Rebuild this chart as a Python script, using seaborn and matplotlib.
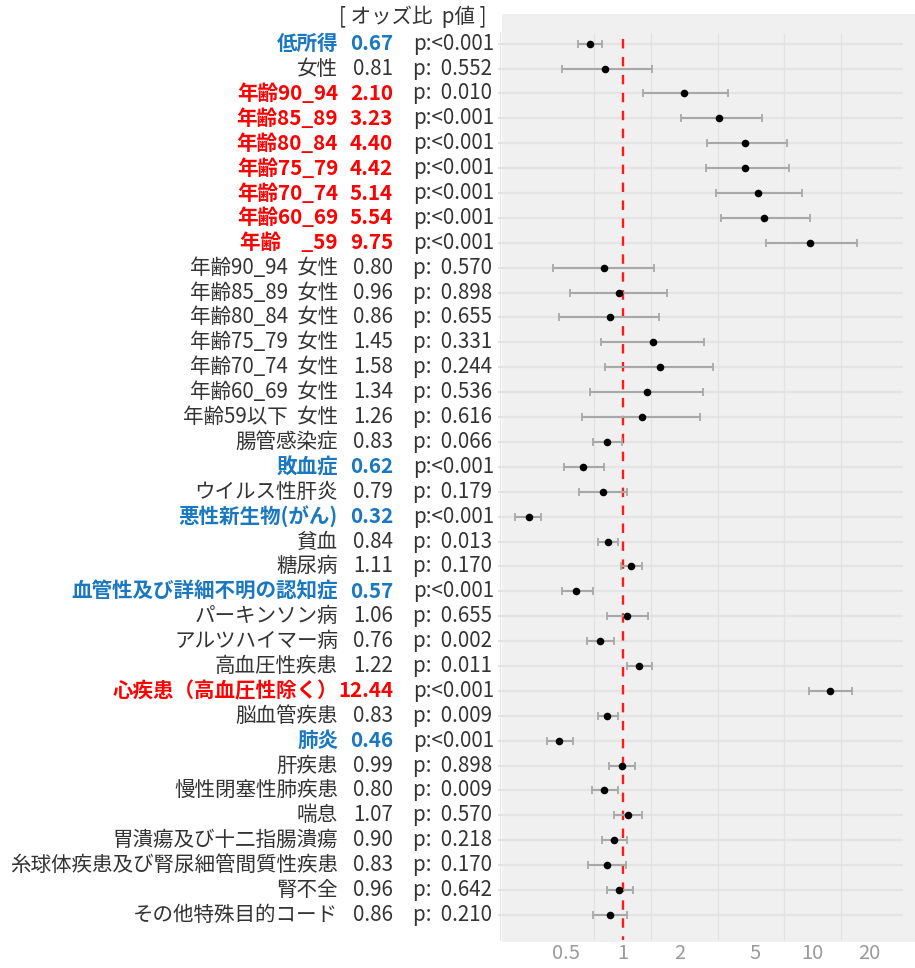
import numpy as np
import pandas as pd
import matplotlib
matplotlib.use("Agg")
import matplotlib.pyplot as plt
import matplotlib.transforms as mtransforms
from matplotlib.lines import Line2D
import seaborn as sns

# ---- data -------------------------------------------------------------
labels = [
    "低所得", "女性", "年齢90_94", "年齢85_89", "年齢80_84", "年齢75_79",
    "年齢70_74", "年齢60_69", "年齢\u3000_59",
    "年齢90_94  女性", "年齢85_89  女性", "年齢80_84  女性", "年齢75_79  女性",
    "年齢70_74  女性", "年齢60_69  女性", "年齢59以下  女性",
    "腸管感染症", "敗血症", "ウイルス性肝炎", "悪性新生物(がん)", "貧血", "糖尿病",
    "血管性及び詳細不明の認知症", "パーキンソン病", "アルツハイマー病", "高血圧性疾患",
    "心疾患（高血圧性除く）", "脳血管疾患", "肺炎", "肝疾患", "慢性閉塞性肺疾患", "喘息",
    "胃潰瘍及び十二指腸潰瘍", "糸球体疾患及び腎尿細管間質性疾患", "腎不全",
    "その他特殊目的コード",
]
odds_ratio = [
    0.67, 0.81, 2.10, 3.23, 4.40, 4.42, 5.14, 5.54, 9.75,
    0.80, 0.96, 0.86, 1.45, 1.58, 1.34, 1.26,
    0.83, 0.62, 0.79, 0.32, 0.84, 1.11, 0.57, 1.06, 0.76, 1.22,
    12.44, 0.83, 0.46, 0.99, 0.80, 1.07, 0.90, 0.83, 0.96, 0.86,
]
ci_lower = [
    0.58, 0.48, 1.28, 2.02, 2.77, 2.75, 3.12, 3.29, 5.70,
    0.43, 0.53, 0.46, 0.77, 0.81, 0.67, 0.61,
    0.70, 0.49, 0.59, 0.27, 0.74, 0.98, 0.48, 0.83, 0.65, 1.06,
    9.56, 0.74, 0.40, 0.85, 0.69, 0.90, 0.78, 0.66, 0.83, 0.70,
]
ci_upper = [
    0.78, 1.42, 3.61, 5.43, 7.38, 7.50, 8.85, 9.68, 17.27,
    1.46, 1.71, 1.56, 2.68, 3.01, 2.65, 2.57,
    0.99, 0.80, 1.05, 0.37, 0.95, 1.26, 0.70, 1.36, 0.90, 1.42,
    16.24, 0.95, 0.55, 1.16, 0.94, 1.27, 1.05, 1.04, 1.13, 1.05,
]
p_values = [
    "<0.001", "0.552", "0.010", "<0.001", "<0.001", "<0.001", "<0.001", "<0.001", "<0.001",
    "0.570", "0.898", "0.655", "0.331", "0.244", "0.536", "0.616",
    "0.066", "<0.001", "0.179", "<0.001", "0.013", "0.170", "<0.001", "0.655", "0.002", "0.011",
    "<0.001", "0.009", "<0.001", "0.898", "0.009", "0.570", "0.218", "0.170", "0.642", "0.210",
]
# highlight: "up" = significantly higher risk, "down" = significantly lower risk
highlight = [
    "down", "", "up", "up", "up", "up", "up", "up", "up",
    "", "", "", "", "", "", "",
    "", "down", "", "down", "", "", "down", "", "", "",
    "up", "", "down", "", "", "", "", "", "", "",
]
x_breaks = [0.5, 1, 2, 5, 10, 20]
x_break_labels = ["0.5", "1", "2", "5", "10", "20"]

df = pd.DataFrame({
    "label": labels, "OR": odds_ratio, "lo": ci_lower, "hi": ci_upper,
    "p": p_values, "hl": highlight,
})
df["row"] = np.arange(len(df))

# ---- style --------------------------------------------------------------
sns.set_style("white")
plt.rcParams["font.family"] = ["Noto Sans CJK JP", "DejaVu Sans"]

W, H = 915, 968
fig = plt.figure(figsize=(W / 100, H / 100), dpi=100)
ax_left, ax_right, ax_top, ax_bottom = 502, 915, 14, 942
ax = fig.add_axes([ax_left / W, 1 - ax_bottom / H,
                   (ax_right - ax_left) / W, (ax_bottom - ax_top) / H])
ax.set_facecolor("#F0F0F0")
for s in ax.spines.values():
    s.set_visible(False)

ax.set_xscale("log")
ax.set_xlim(0.2311, 34.74)
ax.set_ylim(36.09, -1.193)

# horizontal row lines (extend slightly past the panel on the left)
row_tf = mtransforms.blended_transform_factory(ax.transAxes, ax.transData)
for r in df["row"]:
    ax.plot([-0.0097, 0.971], [r, r], color="#E4E4E4", lw=1.6,
            transform=row_tf, clip_on=False, zorder=1, solid_capstyle="butt")

# minor vertical grid between breaks
minor = [np.sqrt(a * b) for a, b in zip(x_breaks[:-1], x_breaks[1:])]
ax.vlines(minor, -0.43, 36.0, color="#E2E2E2", lw=0.9, zorder=1)

# left rule beside the panel
fig.add_artist(Line2D([500 / W, 500 / W], [1 - 32 / H, 1 - 940 / H],
                      color="#E3E3E3", lw=0.8))

# reference line at OR = 1
ax.vlines(1, -0.19, 36.0, color="#FF1A1A", lw=1.7,
          linestyles=[(0, (4.0, 3.6))], zorder=2)

# confidence intervals
ax.errorbar(df["OR"], df["row"],
            xerr=[df["OR"] - df["lo"], df["hi"] - df["OR"]],
            fmt="none", ecolor="#A8A8A8", elinewidth=1.5, capsize=3.0,
            capthick=1.3, zorder=3)
# point estimates
sns.scatterplot(data=df, x="OR", y="row", ax=ax, color="black", s=30,
                edgecolor="black", linewidth=0, zorder=4, legend=False)

ax.set_xticks(x_breaks)
ax.set_xticklabels(x_break_labels)
ax.xaxis.set_minor_locator(matplotlib.ticker.NullLocator())
ax.tick_params(axis="x", length=0, pad=1, labelsize=14.5, labelcolor="#9A9A9A")
ax.set_yticks([])
ax.set_xlabel("")
ax.set_ylabel("")

# ---- text table on the left -------------------------------------------
tf = mtransforms.blended_transform_factory(fig.transFigure, ax.transData)
colors = {"up": "#FF0000", "down": "#1A77C2", "": "#333333"}
fs = 14.8
for _, r in df.iterrows():
    c = colors[r["hl"]]
    w = "bold" if r["hl"] else "normal"
    ax.text(338 / W, r["row"], r["label"], transform=tf, ha="right",
            va="center", fontsize=fs, color=c, fontweight=w, clip_on=False)
    ax.text(393 / W, r["row"], f"{r['OR']:.2f}", transform=tf, ha="right",
            va="center", fontsize=fs, color=c, fontweight=w, clip_on=False)
    ptxt = "p:" + (r["p"] if r["p"].startswith("<") else "  " + r["p"])
    ax.text(413 / W, r["row"], ptxt, transform=tf, ha="left",
            va="center", fontsize=fs, color="#333333", clip_on=False)

fig.text(413 / W, 1 - 17 / H, "[ オッズ比  p値 ]", ha="center", va="center",
         fontsize=fs, color="#333333")

fig.savefig("out.png", dpi=100)
